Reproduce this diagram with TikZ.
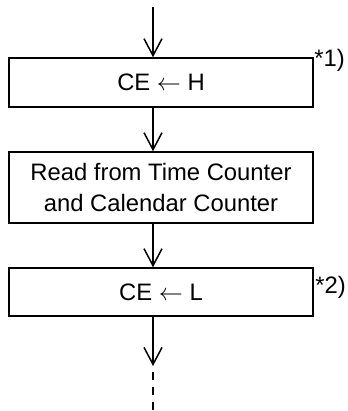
\documentclass[tikz,border=0pt]{standalone}
\usepackage{fontspec}
\setmainfont{Liberation Sans}
\usetikzlibrary{arrows.meta}

\begin{document}
\begin{tikzpicture}[x=0.5pt,y=-0.5pt,
	stepbox/.style={draw,line width=0.75pt,minimum width=152pt,inner sep=0pt,
		align=center,font=\fontsize{11.9}{15.5}\selectfont},
	flow/.style={line width=0.75pt,
		-{Straight Barb[length=8.5pt,width=9pt,line width=0.75pt]}},
	note/.style={anchor=base west,inner sep=0pt,font=\fontsize{11.9}{14}\selectfont}]
	
	\useasboundingbox (0,0) rectangle (347,411);
	
	% --- steps ---
	\node[stepbox,minimum height=24.5pt] (ceh) at (161,82.5) {CE $\leftarrow$ H};
	\node[stepbox,minimum height=35.5pt] (read) at (161,187.5)
	{Read from Time Counter\\and Calendar Counter};
	\node[stepbox,minimum height=24pt] (cel) at (161,292) {CE $\leftarrow$ L};
	
	% --- notes ---
	\node[note] (note1) at (314,67) {*1)};
	\node[note] (note2) at (315,293) {*2)};
	
	% --- flow line ---
	\coordinate (start) at (153,7);
	\coordinate (tip) at (153,366);
	\coordinate (cont) at (153,372);
	\coordinate (stop) at (153,411);
	
	\draw[flow] (start) -- (start |- ceh.north);
	\draw[flow] (start |- ceh.south) -- (start |- read.north);
	\draw[flow] (start |- read.south) -- (start |- cel.north);
	\draw[flow] (start |- cel.south) -- (tip);
	\draw[line width=0.75pt,dash pattern=on 4pt off 3.5pt] (cont) -- (stop);
	
\end{tikzpicture}
\end{document}
